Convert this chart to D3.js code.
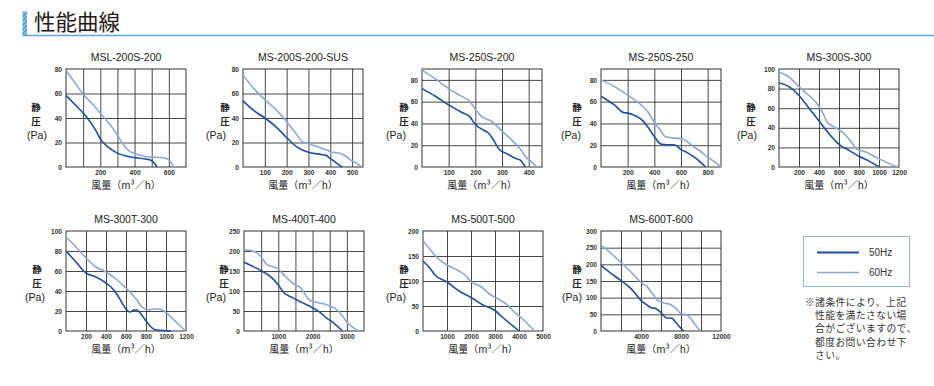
<!DOCTYPE html>
<html>
<head>
<meta charset="utf-8">
<script src="https://cdn.jsdelivr.net/npm/d3@7"></script>
<style>
  body { margin: 0; background: #fff; }
  svg { display: block; }
</style>
</head>
<body>
<script>
// ---------- chart values ----------
const titles = ["MSL-200S-200", "MS-200S-200-SUS", "MS-250S-200", "MS-250S-250", "MS-300S-300",
                "MS-300T-300", "MS-400T-400", "MS-500T-500", "MS-600T-600"];

// x domain max, grid step and labelled ticks (air volume m3/h)
const xMax = [700, 550, 450, 900, 1200, 1200, 3500, 5000, 12000];
const xStep = [100, 100, 100, 200, 200, 200, 500, 1000, 2000];
const xTicks = [
  [200, 400, 600],
  [100, 200, 300, 400, 500],
  [100, 200, 300, 400],
  [200, 400, 600, 800],
  [200, 400, 600, 800, 1000, 1200],
  [200, 400, 600, 800, 1000, 1200],
  [1000, 2000, 3000],
  [1000, 2000, 3000, 4000, 5000],
  [4000, 8000, 12000]
];

// y domain max, grid step and labelled ticks (static pressure Pa)
const yMax = [80, 80, 90, 90, 100, 100, 250, 200, 300];
const yStep = [20, 20, 20, 20, 20, 20, 50, 50, 50];
const yTicks = [
  [0, 20, 40, 60, 80],
  [0, 20, 40, 60, 80],
  [0, 20, 40, 60, 80],
  [0, 20, 40, 60, 80],
  [0, 20, 40, 60, 80, 100],
  [0, 20, 40, 60, 80, 100],
  [0, 50, 100, 150, 200, 250],
  [0, 50, 100, 150, 200],
  [0, 50, 100, 150, 200, 250, 300]
];

// curves [m3/h, Pa]
const msl200_50 = [[0,58.5],[45,52],[113,42],[171,30.5],[200,23],[239,17],[297,11.5],[375,8.2],[453,6.8],[492,5.7],[515,3.3],[531,0]];
const msl200_60 = [[0,79],[50,69],[103,59],[150,52],[200,44],[260,34],[300,26],[336,18],[370,13],[400,11],[450,9],[500,8],[550,7.8],[590,6.8],[610,4],[628,0]];

const ms200sus_50 = [[0,54],[50,46],[100,40],[150,33],[200,24],[250,16],[300,12],[350,10.5],[380,9.5],[400,7],[430,3],[455,0]];
const ms200sus_60 = [[0,75],[50,64],[100,55],[150,47],[200,37],[240,28],[270,21],[300,19],[350,16],[380,14],[410,12],[440,11.5],[470,9],[490,6],[520,3],[545,0]];

const ms250s200_50 = [[0,72],[50,65],[100,57],[150,50],[180,46],[200,39],[230,34],[250,31],[270,24],[290,16],[320,12],[350,8],[370,6],[380,3],[388,0]];
const ms250s200_60 = [[0,89],[50,81],[100,72],[140,66],[180,60],[200,53],[220,47],[260,42],[300,33],[340,24],[370,16],[390,9],[410,5],[430,0]];

const ms250s250_50 = [[0,65],[100,57],[170,50],[200,49.5],[240,48],[300,44],[350,37],[400,28],[450,21],[500,20.5],[550,20.5],[600,16],[650,13],[700,9],[750,4],[785,0]];
const ms250s250_60 = [[0,80],[100,74],[200,66],[300,57],[350,51],[400,41],[450,33],[480,28],[520,27],[600,26],[640,24],[680,20],[750,14],[800,9],[850,5],[900,0]];

const ms300s300_50 = [[0,86],[100,82],[200,73],[300,60],[400,47],[500,34],[600,23],[700,17],[800,11],[900,6],[1005,0]];
const ms300s300_60 = [[0,97],[100,92],[200,82],[300,73],[400,62],[450,53],[480,46],[550,41],[650,34],[720,26],[780,18],[850,16],[950,11],[1050,6],[1180,0]];

const ms300t300_50 = [[0,80],[100,69],[200,58],[300,54],[400,48],[450,44],[500,38],[550,30],[600,22],[640,19],[680,21],[710,21],[750,17],[800,10],[850,4],[900,1],[1000,0.3],[1050,0]];
const ms300t300_60 = [[0,94],[100,84],[200,73],[300,64],[400,59],[500,52],[600,43],[700,32],[760,24],[820,21],[880,22],[930,22],[980,20],[1050,14],[1120,7],[1195,0]];

const ms400t400_50 = [[0,172],[250,162],[500,151],[800,134],[1000,115],[1150,97],[1400,84],[1700,71],[2000,58],[2200,48],[2400,33],[2600,21],[2750,10],[2870,0]];
const ms400t400_60 = [[0,203],[250,200],[450,190],[650,168],[1000,155],[1200,137],[1500,115],[1650,108],[1900,78],[2100,72],[2400,66],[2650,57],[2850,40],[3000,22],[3200,8],[3350,0]];

const ms500t500_50 = [[0,140],[300,125],[500,112],[1000,98],[1500,80],[2000,67],[2500,52],[3000,41],[3300,28],[3600,16],[4000,0]];
const ms500t500_60 = [[0,180],[300,163],[600,146],[1000,132],[1500,120],[1800,110],[2000,99],[2400,89],[2800,73],[3200,62],[3500,53],[3800,38],[4200,22],[4650,0]];

const ms600t600_50 = [[0,197],[1000,173],[2000,151],[3000,127],[3500,110],[4000,92],[4500,80],[5000,70],[5500,67],[6000,55],[6500,40],[7100,38],[7500,25],[8250,0]];
const ms600t600_60 = [[0,258],[1000,233],[2000,205],[3000,177],[4000,146],[4600,133],[5200,110],[5600,93],[6200,85],[7000,79],[7500,68],[8000,52],[8600,48],[9200,28],[9900,0]];

const series50 = [msl200_50, ms200sus_50, ms250s200_50, ms250s250_50, ms300s300_50, ms300t300_50, ms400t400_50, ms500t500_50, ms600t600_50];
const series60 = [msl200_60, ms200sus_60, ms250s200_60, ms250s250_60, ms300s300_60, ms300t300_60, ms400t400_60, ms500t500_60, ms600t600_60];

const legendLabels = ["50Hz", "60Hz"];
const noteLines = ["※諸条件により、上記", "性能を満たさない場", "合がございますので、", "都度お問い合わせ下", "さい。"];

// ---------- layout ----------
const plotLeft = [66, 243, 422, 601, 779, 66, 244, 423, 601];
const plotTop = [69, 69, 69, 69, 69, 231, 231, 231, 231];
const plotH = [98, 98, 98, 98, 98, 100, 100, 100, 100];
const plotW = 120;
const kanjiX = [36, 225, 404, 577, 751, 37, 224, 404, 577];
const paX = [37, 216, 396, 571, 747, 35, 216, 396, 572];

const c50 = "#1c4f9f";
const c60 = "#8ea7d6";
const gridColor = "#333";
const latin = "'Liberation Sans', Arial, sans-serif";
const cjk = "'Noto Sans CJK JP', sans-serif";

const svg = d3.select("body").append("svg")
  .attr("width", 934)
  .attr("height", 386);

// ---------- header ----------
const defs = svg.append("defs");
const pat = defs.append("pattern")
  .attr("id", "stripe")
  .attr("width", 3).attr("height", 3)
  .attr("patternUnits", "userSpaceOnUse")
  .attr("patternTransform", "rotate(45)");
pat.append("rect").attr("width", 3).attr("height", 3).attr("fill", "#a9d0f0");
pat.append("rect").attr("width", 1.6).attr("height", 3).attr("fill", "#3d8fd8");

svg.append("rect")
  .attr("x", 22.5).attr("y", 11.5).attr("width", 4.5).attr("height", 24)
  .attr("fill", "url(#stripe)");
svg.append("line")
  .attr("x1", 22.5).attr("x2", 934).attr("y1", 35.5).attr("y2", 35.5)
  .attr("stroke", "#5ea9df").attr("stroke-width", 1.5);
svg.append("text")
  .attr("x", 34).attr("y", 30)
  .style("font-family", cjk).style("font-size", "21.5px")
  .style("fill", "#231815")
  .text("性能曲線");

// ---------- charts ----------
titles.forEach(function(title, i) {
  const left = plotLeft[i], top = plotTop[i], h = plotH[i];

  const x = d3.scaleLinear().domain([0, xMax[i]]).range([left, left + plotW]);
  const y = d3.scaleLinear().domain([0, yMax[i]]).range([top + h, top]);

  const g = svg.append("g");

  //grid lines through axes
  g.append("g")
    .attr("transform", `translate(0,${top + h})`)
    .call(d3.axisBottom(x).tickValues(d3.range(xStep[i], xMax[i], xStep[i])).tickSize(-h).tickFormat(""))
    .call(a => a.select(".domain").remove())
    .selectAll("line").attr("stroke", gridColor).attr("stroke-width", 0.9);

  g.append("g")
    .attr("transform", `translate(${left},0)`)
    .call(d3.axisLeft(y).tickValues(d3.range(yStep[i], yMax[i], yStep[i])).tickSize(-plotW).tickFormat(""))
    .call(a => a.select(".domain").remove())
    .selectAll("line").attr("stroke", gridColor).attr("stroke-width", 0.9);

  //frame
  g.append("rect")
    .attr("x", left).attr("y", top).attr("width", plotW).attr("height", h)
    .attr("fill", "none").attr("stroke", gridColor).attr("stroke-width", 1);

  //tick labels
  const xa = g.append("g")
    .attr("transform", `translate(0,${top + h})`)
    .call(d3.axisBottom(x).tickValues(xTicks[i]).tickSize(0).tickPadding(3).tickFormat(d3.format("d")));
  xa.select(".domain").remove();
  xa.selectAll("text").style("font-family", latin).style("font-size", "6.6px")
    .style("font-weight", "bold").style("fill", "#333");

  const ya = g.append("g")
    .attr("transform", `translate(${left},0)`)
    .call(d3.axisLeft(y).tickValues(yTicks[i]).tickSize(0).tickPadding(4).tickFormat(d3.format("d")));
  ya.select(".domain").remove();
  ya.selectAll("text").style("font-family", latin).style("font-size", "6.6px")
    .style("font-weight", "bold").style("fill", "#333");

  //curves
  const line = d3.line()
    .x(d => x(d[0]))
    .y(d => y(d[1]))
    .curve(d3.curveMonotoneX);

  g.append("path").datum(series60[i])
    .attr("d", line).attr("fill", "none")
    .attr("stroke", c60).attr("stroke-width", 1.6);
  g.append("path").datum(series50[i])
    .attr("d", line).attr("fill", "none")
    .attr("stroke", c50).attr("stroke-width", 1.6);

  //title
  g.append("text")
    .attr("x", left + plotW / 2).attr("y", top - 8.5)
    .attr("text-anchor", "middle")
    .style("font-family", latin).style("font-size", "10.5px")
    .style("fill", "#222")
    .text(title);

  //x axis label
  g.append("text")
    .attr("x", left + plotW / 2).attr("y", top + h + 22)
    .attr("text-anchor", "middle")
    .style("font-family", cjk).style("font-size", "10px")
    .style("fill", "#222")
    .text("風量（m³／h）");

  //y axis label
  [["静", 42], ["圧", 55.5]].forEach(function(t) {
    g.append("text")
      .attr("x", kanjiX[i]).attr("y", top + t[1])
      .attr("text-anchor", "middle")
      .style("font-family", cjk).style("font-size", "9.5px")
      .style("font-weight", "bold").style("fill", "#222")
      .text(t[0]);
  });
  g.append("text")
    .attr("x", paX[i]).attr("y", top + 69.5)
    .attr("text-anchor", "middle")
    .style("font-family", latin).style("font-size", "10.5px")
    .style("fill", "#222")
    .text("(Pa)");
});

// ---------- legend ----------
const lg = svg.append("g");
lg.append("rect")
  .attr("x", 803.5).attr("y", 236.5).attr("width", 106).attr("height", 50)
  .attr("fill", "#fff").attr("stroke", "#8db9e3").attr("stroke-width", 1);

legendLabels.forEach(function(lab, k) {
  const yy = 252.5 + k * 20;
  lg.append("line")
    .attr("x1", 817).attr("x2", 859).attr("y1", yy).attr("y2", yy)
    .attr("stroke", k === 0 ? c50 : c60).attr("stroke-width", k === 0 ? 2 : 1.5);
  lg.append("text")
    .attr("x", 869).attr("y", yy + 3.5)
    .style("font-family", latin).style("font-size", "10px")
    .style("fill", "#333")
    .text(lab);
});

// ---------- note ----------
noteLines.forEach(function(t, k) {
  svg.append("text")
    .attr("x", k === 0 ? 805 : 815)
    .attr("y", 305.5 + k * 13.4)
    .style("font-family", cjk).style("font-size", "9.8px")
    .style("letter-spacing", "0.4px")
    .style("fill", "#333")
    .text(t);
});
</script>
</body>
</html>
